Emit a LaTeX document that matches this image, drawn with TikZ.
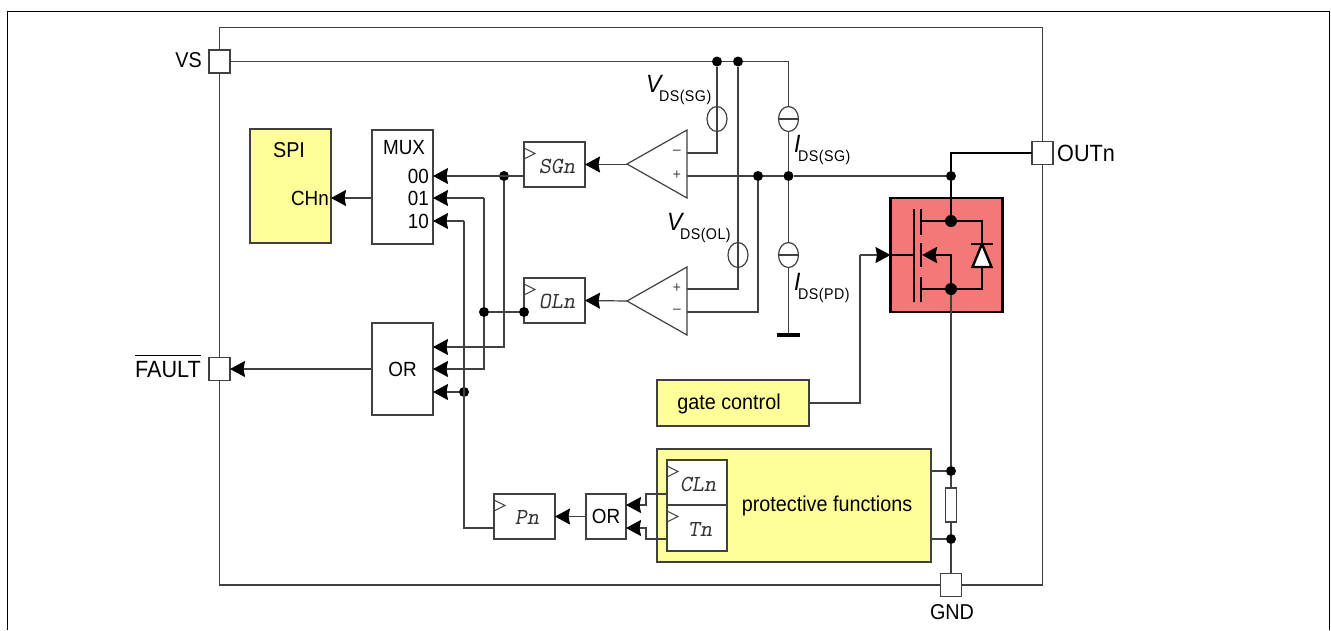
\documentclass[tikz,border=0pt]{standalone}
\usepackage{fontspec}
\setmainfont[FakeStretch=0.92]{Liberation Sans}
\usetikzlibrary{arrows.meta,shapes.geometric}
\definecolor{blockyellow}{HTML}{FFFF99}
\definecolor{fetred}{HTML}{F47878}
\tikzset{
  wire/.style={draw=black!75,line width=1.2pt},
  arr/.style={wire,-{Stealth[length=15pt,width=16pt,inset=1.5pt,color=black]}},
  fet/.style={draw=black,line width=2.4pt},
  power/.style={draw=black,line width=2.8pt},
  pad/.style={draw=black!75,line width=1.2pt,fill=white,minimum width=21pt,minimum height=23pt,inner sep=0pt,outer sep=0pt},
  block/.style={draw=black!75,line width=1.2pt,fill=white,inner sep=0pt,outer sep=0pt},
  yblock/.style={block,fill=blockyellow},
  dot/.style={circle,fill=black,minimum size=10pt,inner sep=0pt,outer sep=0pt},
  bigdot/.style={circle,fill=black,minimum size=12pt,inner sep=0pt,outer sep=0pt},
  src/.style={ellipse,draw=black!75,line width=1.2pt,minimum width=20pt,minimum height=25pt,inner sep=0pt,outer sep=0pt},
  lab/.style={inner sep=0pt,font=\fontsize{21.5}{24}\selectfont},
  labsmall/.style={inner sep=0pt,font=\fontsize{20.5}{24}\selectfont},
  labwide/.style={inner sep=0pt,font=\fontsize{23.5}{26}\selectfont},
  reg/.style={inner sep=0pt,font=\fontsize{23}{24}\ttfamily\slshape,text=black!80},
  sign/.style={inner sep=0pt,font=\fontsize{15}{15}\selectfont,text=black!75},
  vlab/.style={inner sep=0pt,anchor=base west},
}
\newcommand{\clkmark}[1]{\draw[wire,line width=1pt] (#1.north west) ++(0,6) -- ++(11,5.5) -- ++(-11,5.5);}
\newcommand{\symsub}[2]{{\fontsize{25}{25}\selectfont\itshape #1}\kern-2.5pt\raisebox{-9pt}{\fontsize{15.5}{15}\selectfont\addfontfeature{LetterSpace=3} #2}}

\begin{document}
\begin{tikzpicture}[x=1pt,y=-1pt]
  \def\railVS{61.5};
  \def\railOut{176};
  \useasboundingbox (0,0) rectangle (1331,630);
  \fill[white] (0,0) rectangle (1331,630);
  \draw[black,line width=1.3pt] (7.5,630) -- (7.5,11.5) -- (1329.5,11.5) -- (1329.5,630);
  \draw[wire] (219.5,27.5) rectangle (1042.5,585);
  %
  \node[pad] (VS) 	at (219.5,\railVS) 	{};
  \node[pad] (FAULT) 	at (219.5,369) 		{};
  \node[pad] (OUTn) 	at (1042.5,153) 	{};
  \node[pad] (GND) 	at (951,585) 		{};
  \node[lab,anchor=east] (VSlabel) 	at (202,60) 	{VS};
  \node[labwide,anchor=east] (FAULTlabel) at (201,366) 	{$\overline{\mbox{\rule{0pt}{21pt}FAULT}}$};
  \node[labwide,anchor=west] (OUTnlabel) at (1057,153) 	{OUTn};
  \node[lab] (GNDlabel) 			at (952,612) 	{GND};
  %
  \node[yblock,minimum width=81pt,minimum height=114pt] (SPI) 	at (290.5,186) 	{};
  \node[block,minimum width=61pt,minimum height=114pt] (MUX) 	at (402.5,187) 	{};
  \node[block,labsmall,minimum width=61pt,minimum height=92pt] (OR) at (402.5,369) {OR};
  \node[block,minimum width=61pt,minimum height=45pt] (SGn) 	at (554.5,164.5) {};
  \node[block,minimum width=61pt,minimum height=45pt] (OLn) 	at (554.5,300.5) {};
  \node[block,minimum width=61pt,minimum height=45pt] (Pn) 	at (524.5,516.5) {};
  \node[block,labsmall,minimum width=40pt,minimum height=45pt] (ORp) at (606,516.5) {OR};
  \node[yblock,minimum width=152pt,minimum height=46pt] (gate) 	at (733,403) 	{};
  \node[yblock,minimum width=274pt,minimum height=113pt] (prot) at (794,505.5) 	{};
  \node[block,minimum width=60pt,minimum height=45pt] (CLn) 	at (697,482.5) 	{};
  \node[block,minimum width=60pt,minimum height=46pt] (Tn) 	at (697,528) 	{};
  \clkmark{SGn}
  \clkmark{OLn}
  \clkmark{Pn}
  \clkmark{CLn}
  \clkmark{Tn}
  %
  \node[lab] (SPIlabel) 		at (289,150) 	{SPI};
  \node[labsmall,anchor=east] (CHnlabel) at (329,198) 	{CHn};
  \node[labsmall] (MUXlabel) 		at (404,148) 	{MUX};
  \node[labsmall,anchor=east] (MUXa) 	at (429,176) 	{00};
  \node[labsmall,anchor=east] (MUXb) 	at (429,198) 	{01};
  \node[labsmall,anchor=east] (MUXc) 	at (429,221) 	{10};
  \node[reg] (SGnlabel) 		at (557,166) 	{SGn};
  \node[reg] (OLnlabel) 		at (557,301) 	{OLn};
  \node[reg] (Pnlabel) 			at (527,517) 	{Pn};
  \node[reg] (CLnlabel) 		at (698,484) 	{CLn};
  \node[reg] (Tnlabel) 			at (700,529) 	{Tn};
  \node[lab] (gatelabel) 		at (729,404) 	{gate control};
  \node[lab] (protlabel) 		at (827,505.5) 	{protective functions};
  %
  % komparatory
  \coordinate (cmpAapex) at (627,164);
  \coordinate (cmpAtop) at (687,130);
  \coordinate (cmpAbot) at (687,198);
  \coordinate (cmpBapex) at (627,301);
  \coordinate (cmpBtop) at (687,267);
  \coordinate (cmpBbot) at (687,335);
  \draw[wire] (cmpAapex) -- (cmpAtop) -- (cmpAbot) -- cycle;
  \draw[wire] (cmpBapex) -- (cmpBtop) -- (cmpBbot) -- cycle;
  \node[sign] (cmpAm) at (677,152) {--};
  \node[sign] (cmpAp) at (677,175) {+};
  \node[sign] (cmpBp) at (677,288) {+};
  \node[sign] (cmpBm) at (677,311) {--};
  \coordinate (cmpAminus) at (687,153);
  \coordinate (cmpAplus) at (687,\railOut);
  \coordinate (cmpBplus) at (687,289);
  \coordinate (cmpBminus) at (687,312);
  %
  \node[dot] (railA) 	at (717,\railVS) 	{};
  \node[dot] (railB) 	at (738,\railVS) 	{};
  \node[dot] (outA) 	at (758,\railOut) 	{};
  \node[dot] (outB) 	at (788.5,\railOut) 	{};
  \node[dot] (outC) 	at (951,\railOut) 	{};
  \coordinate (railEnd) at (788.5,\railVS);
  \coordinate (kneeOut) at (951,153);
  \node[src] (volSG) 	at (717,119) 		{};
  \node[src] (volOL) 	at (738,255) 		{};
  \node[src] (curSG) 	at (788.5,119) 		{};
  \node[src] (curPD) 	at (788.5,255) 		{};
  \coordinate (gndRail) at (788.5,335);
  \coordinate (gndL) at (777,335);
  \coordinate (gndR) at (800,335);
  %
  \draw[wire] (VS.east) -- (railA);
  \draw[wire] (railA) -- (railB);
  \draw[wire] (railB) -- (railEnd) -- (curSG.north);
  \draw[wire] (railA) -- (volSG.north);
  \draw[wire] (volSG.north) -- (volSG.south);
  \draw[wire] (volSG.south) |- (cmpAminus);
  \draw[wire] (railB) -- (volOL.north);
  \draw[wire] (volOL.north) -- (volOL.south);
  \draw[wire] (volOL.south) |- (cmpBplus);
  \draw[wire] (cmpAplus) -- (outA);
  \draw[wire] (outA) -- (outB);
  \draw[wire] (outB) -- (outC);
  \draw[wire] (outA) |- (cmpBminus);
  \draw[wire] (curSG.west) -- (curSG.east);
  \draw[wire] (curPD.west) -- (curPD.east);
  \draw[wire] (curSG.south) -- (outB);
  \draw[wire] (outB) -- (curPD.north);
  \draw[wire] (curPD.south) -- (gndRail);
  \draw[power,line width=3.4pt] (gndL) -- (gndR);
  \node[vlab] (lblVSG) at (646,92) 	{\symsub{V}{DS(SG)}};
  \node[vlab] (lblVOL) at (667,230) 	{\symsub{V}{DS(OL)}};
  \node[vlab] (lblISG) at (794,152) 	{\symsub{I}{DS(SG)}};
  \node[vlab] (lblIPD) at (794,290) 	{\symsub{I}{DS(PD)}};
  %
  % vystupy registru
  \coordinate (SGnOut) at (524,176);
  \coordinate (muxA) at (433,176);
  \coordinate (muxB) at (433,198);
  \coordinate (muxC) at (433,221);
  \coordinate (orA) at (433,347);
  \coordinate (orB) at (433,369);
  \coordinate (orC) at (433,392);
  \coordinate (PnOut) at (494,528);
  \node[dot] (sgDot) 	at (504,176) 	{};
  \node[dot] (olDotA) 	at (484,312) 	{};
  \node[dot] (olDotB) 	at (524,312) 	{};
  \node[dot] (pDot) 	at (464,392) 	{};
  \coordinate (busB) at (484,198);
  \coordinate (busC) at (464,221);
  \coordinate (busP) at (464,528);
  \draw[arr] (SGnOut) -- (muxA);
  \draw[wire] (sgDot) |- (orA);
  \draw[arr] (sgDot) ++(0,171) -- (orA);
  \draw[wire] (olDotB) -- (olDotA);
  \draw[arr] (busB) -- (muxB);
  \draw[wire] (olDotA) -- (busB);
  \draw[wire] (olDotA) |- (orB);
  \draw[arr] (olDotA) ++(0,57) -- (orB);
  \draw[arr] (pDot) -- (orC);
  \draw[arr] (busC) -- (muxC);
  \draw[wire] (PnOut) -- (busP) -- (busC);
  \draw[arr] (MUX.west) ++(0,11) -- (SPI.east |- CHnlabel);
  \draw[arr] (OR.west) -- (FAULT.east);
  \draw[arr] (SGn.west -| cmpAapex) -- (SGn.east);
  \draw[arr] (cmpBapex) -- (OLn.east);
  \draw[arr] (ORp.west) -- (Pn.east);
  %
  % OR ochran
  \coordinate (CLnOut) at (667,494);
  \coordinate (TnOut) at (667,539);
  \coordinate (clKneeA) at (646,494);
  \coordinate (clKneeB) at (646,505);
  \coordinate (tnKneeA) at (646,539);
  \coordinate (tnKneeB) at (646,528);
  \coordinate (orpA) at (626,505);
  \coordinate (orpB) at (626,528);
  \draw[arr] (CLnOut) -- (clKneeA) -- (clKneeB) -- (orpA);
  \draw[arr] (TnOut) -- (tnKneeA) -- (tnKneeB) -- (orpB);
  %
  % vykonovy tranzistor
  \node[fill=fetred,draw=black,line width=2.2pt,minimum width=112pt,minimum height=114pt,inner sep=0pt,outer sep=0pt] (FET) at (946.5,255) {};
  \coordinate (gateTop) at (914,209);
  \coordinate (gateBot) at (914,302);
  \coordinate (gateMid) at (914,255);
  \coordinate (gateTurn) at (860,255);
  \draw[wire] (gate.east) -| (gateTurn);
  \draw[arr] (gateTurn) -- (FET.west);
  \draw[fet] (FET.west) -- (gateMid);
  \draw[fet] (gateTop) -- (gateBot);
  \draw[fet] (921,209) -- (921,235);
  \draw[fet] (921,243) -- (921,267);
  \draw[fet] (921,277) -- (921,302);
  \node[bigdot] (drain) 	at (951,221) {};
  \node[bigdot] (source) 	at (951,289) {};
  \coordinate (drainL) at (921,221);
  \coordinate (drainR) at (982,221);
  \coordinate (sourceL) at (921,289);
  \coordinate (sourceR) at (982,289);
  \coordinate (bodyTurn) at (951,255);
  \coordinate (bodyTip) at (922,255);
  \coordinate (diodeTop) at (982,244);
  \coordinate (diodeL) at (972.5,267);
  \coordinate (diodeR) at (991.5,267);
  \coordinate (diodeBase) at (982,267);
  \draw[fet] (drainL) -- (drain) -- (drainR) -- (diodeTop);
  \draw[fet] (sourceL) -- (source) -- (sourceR) -- (diodeBase);
  \draw[fet,-{Stealth[length=15pt,width=16pt,inset=1.5pt]}] (source) -- (bodyTurn) -- (bodyTip);
  \draw[fet,fill=white] (diodeTop) -- (diodeL) -- (diodeR) -- cycle;
  \draw[fet] (971,244) -- (993,244);
  \draw[power] (OUTn.west) -- (kneeOut) -- (outC) -- (drain);
  %
  % bocnik
  \node[draw=black!75,line width=1.2pt,fill=white,minimum width=11pt,minimum height=34pt,inner sep=0pt,outer sep=0pt] (shunt) at (951,505) {};
  \node[dot] (shuntA) 	at (951,471) {};
  \node[dot] (shuntB) 	at (951,539) {};
  \coordinate (protA) at (931,471);
  \coordinate (protB) at (931,539);
  \draw[wire] (source) -- (shuntA);
  \draw[wire] (shuntA) -- (shunt.north);
  \draw[wire] (shunt.south) -- (shuntB);
  \draw[wire] (shuntB) -- (GND.north);
  \draw[wire] (protA) -- (shuntA);
  \draw[wire] (protB) -- (shuntB);
\end{tikzpicture}
\end{document}
